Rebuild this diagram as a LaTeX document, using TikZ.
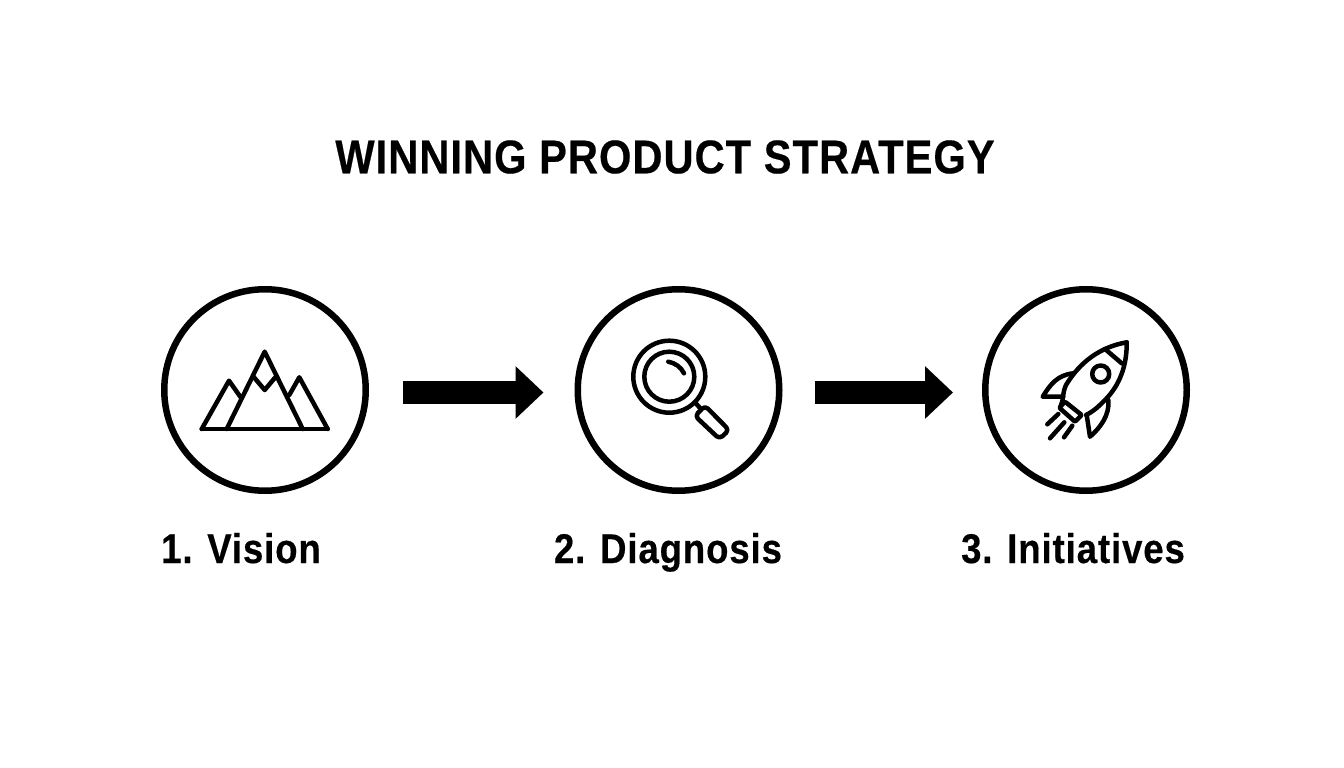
\documentclass[tikz,border=0pt]{standalone}
\usepackage{fontspec}
\setmainfont{Liberation Sans}[FakeStretch=0.88,LetterSpace=2.2,BoldFeatures={FakeBold=0.4}]
\usetikzlibrary{arrows.meta}
\tikzset{
  stage/.style={circle,draw=black,line width=6.5pt,minimum size=201.5pt,inner sep=0pt,fill=white},
  icon/.style={draw=black,line width=4.5pt,line join=round,line cap=round},
  heading/.style={font=\fontsize{47.3pt}{50pt}\selectfont\bfseries,text=black,inner sep=0pt,anchor=center},
  caption/.style={font=\fontsize{41.5pt}{44pt}\selectfont\bfseries,text=black,inner sep=0pt,anchor=base},
  flow/.style={draw=black,line width=23pt,-{Triangle[length=28pt,width=51pt]}}
}
\begin{document}
\begin{tikzpicture}[x=1pt,y=-1pt]
\useasboundingbox (0,0) rectangle (1344,768);
\fill[white] (0,0) rectangle (1344,768);
\node[heading] (title) at (665,157) {WINNING PRODUCT STRATEGY};
\node[stage] (c1) at (265,390) {};
\node[stage] (c2) at (678.5,390) {};
\node[stage] (c3) at (1086,390) {};
\node[caption] (l1) at (241,563) {1. Vision};
\node[caption] (l2) at (668,563) {2. Diagnosis};
\node[caption] (l3) at (1073,563) {3. Initiatives};
\draw[flow,shorten <=34pt,shorten >=31pt] ([yshift=-2.5pt]c1.east) -- ([yshift=-2.5pt]c2.west);
\draw[flow,shorten <=32pt,shorten >=29pt] ([yshift=-2.5pt]c2.east) -- ([yshift=-2.5pt]c3.west);
% mountain
\draw[icon] (201.7,429) -- (327.7,429);
\draw[icon] (226.7,429) -- (264.7,351.7) -- (302.7,429);
\draw[icon] (201.7,429) -- (229,380.7) -- (240.7,397.3);
\draw[icon] (327.7,429) -- (299.3,377.3) -- (289.3,395);
\draw[icon] (254,377.3) -- (264.7,390) -- (275.3,377.3);
% magnifier
\draw[icon] (669.3,376.7) circle (36);
\draw[icon] (669.3,376.7) circle (25);
\draw[icon] (668.3,361.7) .. controls (675,363) and (681,367) .. (684,373.3);
\draw[icon] (696,403.5) -- (700,408);
\draw[icon,rounded corners=4pt] (705,405.7) -- (695,416) -- (719.5,439) -- (729,430) -- cycle;
% rocket
\draw[icon] (1126.7,342.3) .. controls (1100,347) and (1080,362) .. (1066,385) .. controls (1062,394) and (1064,398) .. (1061,405);
\draw[icon] (1126.7,342.3) .. controls (1127,365) and (1120,385) .. (1105,400) .. controls (1098,407) and (1094,411) .. (1086,415);
\draw[icon] (1105,349) -- (1121.7,363.3);
\draw[icon] (1100.7,374) circle (8.5);
\draw[icon,rounded corners=1pt] (1065,401.7) -- (1059.3,407.7) -- (1075,421.7) -- (1081.7,415) -- cycle;
\draw[icon] (1073.3,373.3) .. controls (1057,375) and (1050,385) .. (1042.7,396.7) -- (1063.3,396.7);
\draw[icon] (1108.3,400) .. controls (1110,415) and (1100,428) .. (1090,436.7) -- (1086.7,415);
\draw[icon] (1047.3,424.3) -- (1058.3,414);
\draw[icon] (1050,438.3) -- (1064.3,422.3);
\draw[icon] (1064,437.3) -- (1072.3,425.7);
\end{tikzpicture}
\end{document}
